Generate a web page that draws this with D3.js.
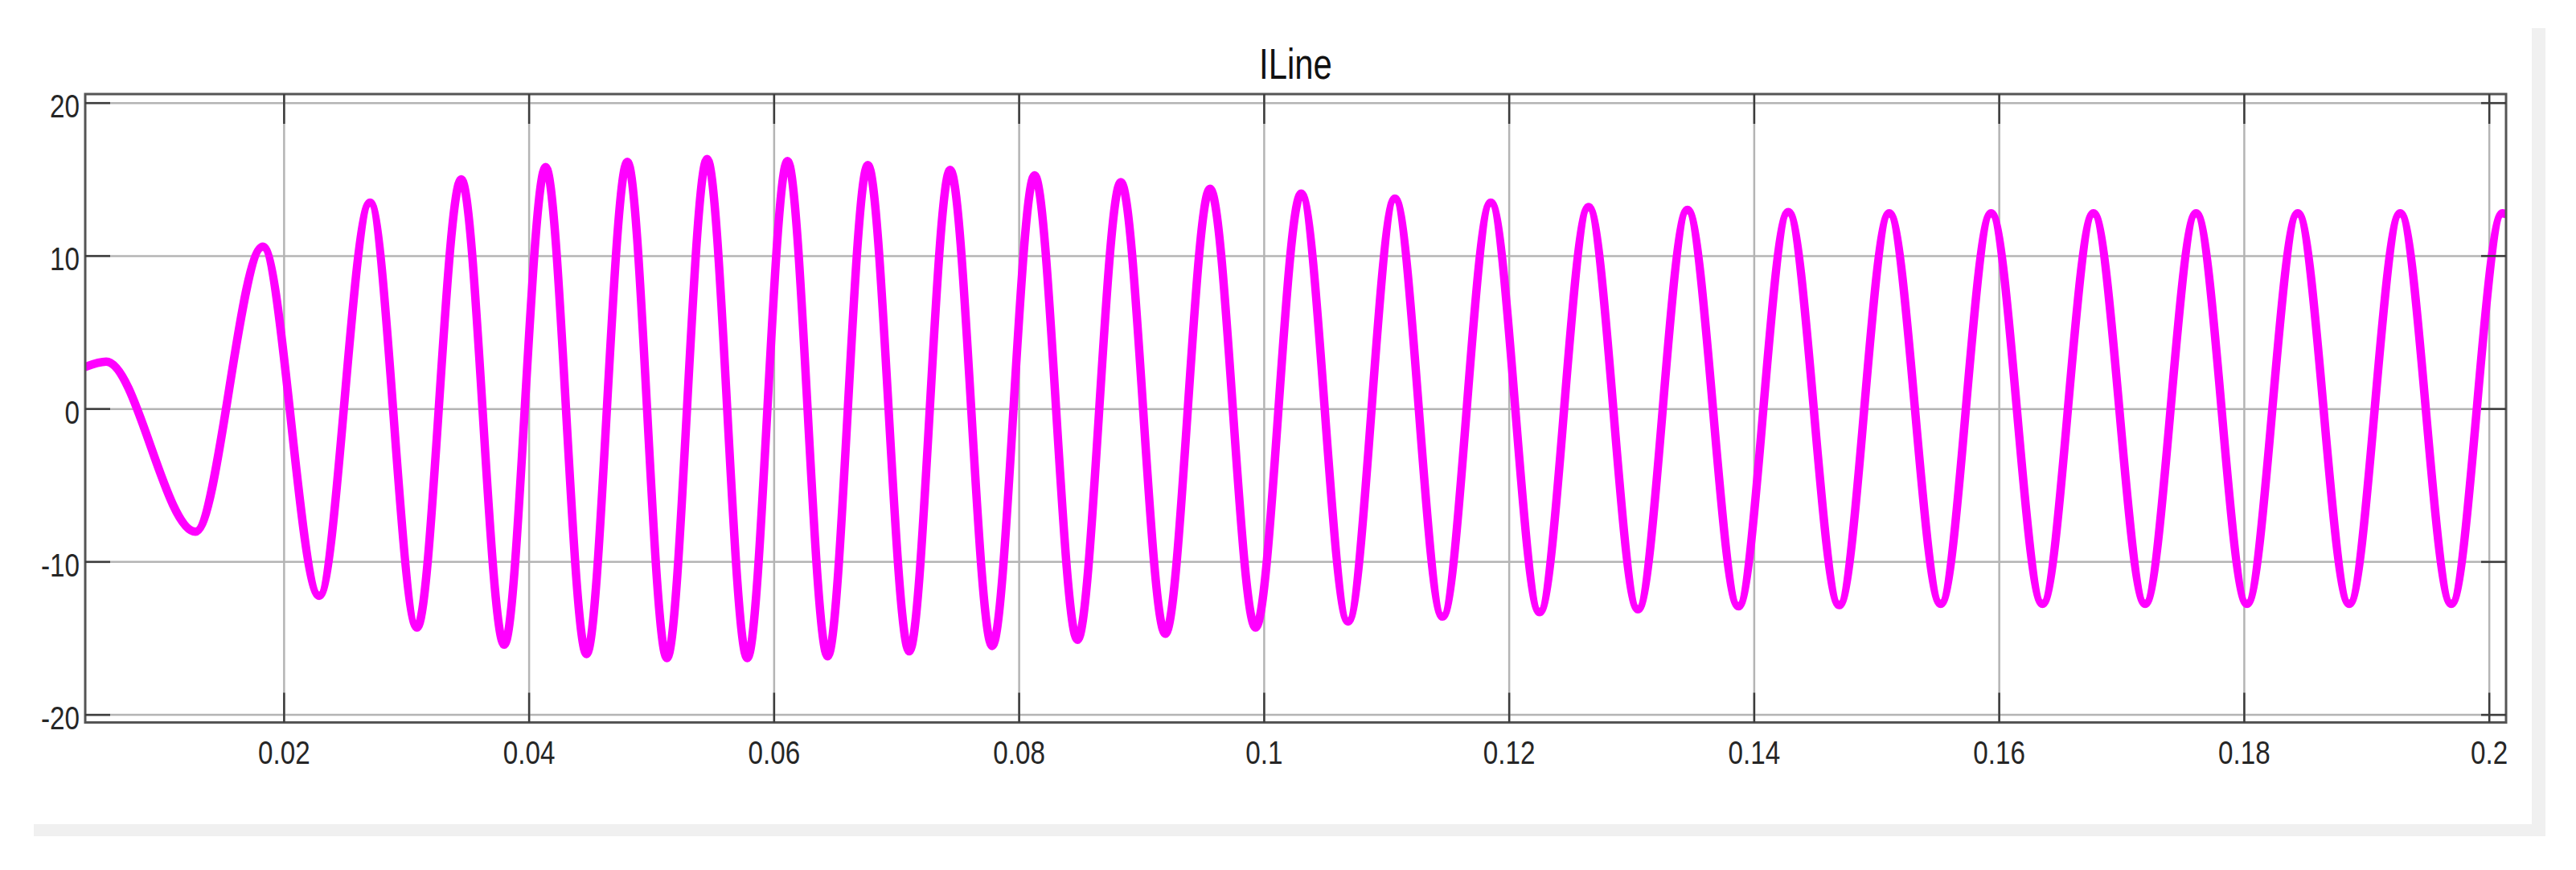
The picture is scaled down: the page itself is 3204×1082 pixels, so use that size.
<!DOCTYPE html>
<html>
<head>
<meta charset="utf-8">
<script src="https://cdn.jsdelivr.net/npm/d3@7"></script>
<style>
  html, body { margin: 0; padding: 0; background: #ffffff; }
  svg { display: block; }
</style>
</head>
<body>
<script>
// ---- data ----
const chartTitle = "ILine";
const timeValues = [0.0038, 0.00551, 0.0128, 0.0183, 0.0229, 0.02705, 0.03088, 0.03449, 0.0380, 0.04138,
  0.04472, 0.04805, 0.05128, 0.05456, 0.05784, 0.06112, 0.0644, 0.06768, 0.07106, 0.0744,
  0.07783, 0.08129, 0.08479, 0.08833, 0.09196, 0.09561, 0.09933, 0.10305, 0.10688, 0.1107,
  0.11459, 0.11853, 0.12251, 0.12651, 0.13054, 0.13458, 0.13874, 0.14281, 0.14697, 0.15105,
  0.15525, 0.15937, 0.16356, 0.16772, 0.17194, 0.1761, 0.18025, 0.1844, 0.1886, 0.19276,
  0.19693, 0.2011, 0.2014];
const currentValues = [2.72, 3.07, -8.05, 10.59, -12.24, 13.47, -14.32, 14.99, -15.44, 15.79,
  -16.05, 16.13, -16.32, 16.32, -16.32, 16.19, -16.19, 15.92, -15.87, 15.6,
  -15.52, 15.25, -15.12, 14.8, -14.72, 14.37, -14.32, 14.05, -13.92, 13.73,
  -13.6, 13.47, -13.31, 13.17, -13.12, 12.99, -12.93, 12.85, -12.85, 12.77,
  -12.77, 12.77, -12.77, 12.77, -12.77, 12.77, -12.77, 12.77, -12.77, 12.77,
  -12.77, 12.77, 12.72];
const xTicks = [0.02, 0.04, 0.06, 0.08, 0.1, 0.12, 0.14, 0.16, 0.18, 0.2];
const xTickLabels = ["0.02", "0.04", "0.06", "0.08", "0.1", "0.12", "0.14", "0.16", "0.18", "0.2"];
const yTicks = [-20, -10, 0, 10, 20];
const yTickLabels = ["-20", "-10", "0", "10", "20"];
const xDomain = [0.0038, 0.2014];
const yDomain = [-20.52, 20.56];

// ---- layout ----
const W = 3204, H = 1082;
const L = 106, R = 3117, T = 117, B = 898.5;
const FONT = "'Liberation Sans', Arial, Helvetica, sans-serif";
const SX = 0.81;

const svg = d3.select("body").append("svg")
  .attr("width", W).attr("height", H)
  .attr("viewBox", `0 0 ${W} ${H}`);

svg.append("rect").attr("width", W).attr("height", H).attr("fill", "#ffffff");

// light gray panel edge (right and bottom)
svg.append("rect").attr("x", 3149).attr("y", 35).attr("width", 17).attr("height", 1005).attr("fill", "#f0f0f0");
svg.append("rect").attr("x", 42).attr("y", 1025).attr("width", 3124).attr("height", 15).attr("fill", "#f0f0f0");

const x = d3.scaleLinear().domain(xDomain).range([L, R]);
const y = d3.scaleLinear().domain(yDomain).range([B, T]);

// ---- grid ----
const gridX = svg.append("g").attr("transform", `translate(0,${B})`)
  .call(d3.axisBottom(x).tickValues(xTicks).tickSize(-(B - T)).tickFormat(""));
gridX.select(".domain").remove();
gridX.selectAll("line").attr("stroke", "#b4b4b4").attr("stroke-width", 2.5);

const gridY = svg.append("g").attr("transform", `translate(${L},0)`)
  .call(d3.axisLeft(y).tickValues(yTicks).tickSize(-(R - L)).tickFormat(""));
gridY.select(".domain").remove();
gridY.selectAll("line").attr("stroke", "#b4b4b4").attr("stroke-width", 2.5);

// ---- series ----
svg.append("clipPath").attr("id", "plotclip")
  .append("rect").attr("x", L).attr("y", T).attr("width", R - L).attr("height", B - T);

const points = timeValues.map((t, i) => ({ t: t, v: currentValues[i] }));
const line = d3.line().x(d => x(d.t)).y(d => y(d.v)).curve(d3.curveMonotoneX);

svg.append("path")
  .datum(points)
  .attr("clip-path", "url(#plotclip)")
  .attr("d", line)
  .attr("fill", "none")
  .attr("stroke", "#ff00ff")
  .attr("stroke-width", 10.5)
  .attr("stroke-linejoin", "round")
  .attr("stroke-linecap", "round");

// ---- frame ----
svg.append("rect").attr("x", L).attr("y", T).attr("width", R - L).attr("height", B - T)
  .attr("fill", "none").attr("stroke", "#555555").attr("stroke-width", 3);

// ---- ticks ----
function styleTicks(g) {
  g.select(".domain").remove();
  g.selectAll("line").attr("stroke", "#3c3c3c").attr("stroke-width", 2.5);
}

const axB = svg.append("g").attr("transform", `translate(0,${B})`)
  .call(d3.axisBottom(x).tickValues(xTicks).tickSize(-37).tickFormat((d, i) => xTickLabels[i]));
styleTicks(axB);
axB.attr("font-family", FONT).attr("font-size", 41);
axB.selectAll("text")
  .attr("y", 51.5).attr("dy", 0)
  .attr("fill", "#262626")
  .attr("text-anchor", "middle")
  .attr("transform", `scale(${SX},1)`);

const axT = svg.append("g").attr("transform", `translate(0,${T})`)
  .call(d3.axisTop(x).tickValues(xTicks).tickSize(-37).tickFormat(""));
styleTicks(axT);

const axL = svg.append("g").attr("transform", `translate(${L},0)`)
  .call(d3.axisLeft(y).tickValues(yTicks).tickSize(-31).tickFormat((d, i) => yTickLabels[i]));
styleTicks(axL);
axL.attr("font-family", FONT).attr("font-size", 41);
axL.selectAll("text")
  .attr("x", -7 / SX).attr("dy", 0).attr("y", 18)
  .attr("fill", "#262626")
  .attr("text-anchor", "end")
  .attr("transform", `scale(${SX},1)`);

const axR = svg.append("g").attr("transform", `translate(${R},0)`)
  .call(d3.axisRight(y).tickValues(yTicks).tickSize(-31).tickFormat(""));
styleTicks(axR);

// ---- title ----
svg.append("text")
  .attr("transform", `translate(${(L + R) / 2},98) scale(0.79,1)`)
  .attr("text-anchor", "middle")
  .attr("font-family", FONT)
  .attr("font-size", 53)
  .attr("fill", "#111111")
  .text(chartTitle);
</script>
</body>
</html>
